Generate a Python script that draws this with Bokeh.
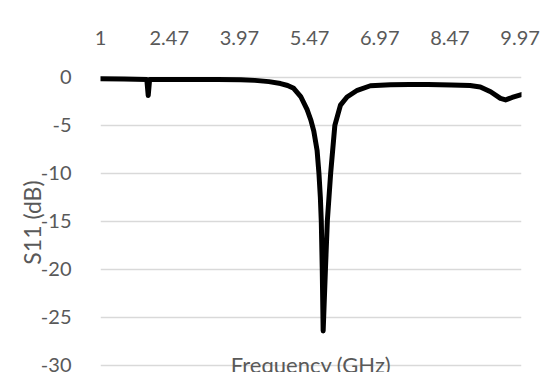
from bokeh.plotting import figure
from bokeh.models import Range1d, FixedTicker, Label, ColumnDataSource
from bokeh.embed import file_html
from bokeh.resources import INLINE

# ---- data ----
freq_ghz = [1.00, 1.50, 1.99, 2.02, 2.05, 2.50, 3.00, 3.50, 4.00, 4.30, 4.60,
            4.85, 5.00, 5.13, 5.28, 5.42, 5.50, 5.56, 5.63, 5.67, 5.70, 5.72,
            5.74, 5.76, 5.81, 5.85, 5.92, 6.01, 6.13, 6.27, 6.49, 6.77, 7.20,
            7.60, 8.00, 8.50, 8.90, 9.12, 9.34, 9.55, 9.66, 9.80, 10.00]
s11_db = [-0.15, -0.18, -0.22, -1.90, -0.22, -0.22, -0.22, -0.23, -0.26, -0.32, -0.45,
          -0.65, -0.85, -1.15, -2.00, -3.40, -4.50, -5.60, -7.60, -10.0, -12.5, -15.0,
          -19.8, -26.4, -19.8, -14.9, -10.0, -5.00, -2.90, -2.05, -1.35, -0.88, -0.78,
          -0.75, -0.76, -0.80, -0.86, -1.00, -1.50, -2.20, -2.35, -2.10, -1.80]

x_ticks = [1, 2.47, 3.97, 5.47, 6.97, 8.47, 9.97]
x_tick_labels = ["1", "2.47", "3.97", "5.47", "6.97", "8.47", "9.97"]
y_ticks = [0, -5, -10, -15, -20, -25, -30]
y_tick_labels = ["0", "-5", "-10", "-15", "-20", "-25", "-30"]

FONT = "Lato"
TXT = "#595959"
GRID = "#d9d9d9"

p = figure(width=553, height=372, output_backend="svg", toolbar_location=None,
           x_range=Range1d(1, 10), y_range=Range1d(-30.73, 0.5),
           x_axis_location="above",
           min_border_left=100, min_border_right=32,
           min_border_top=72, min_border_bottom=0)

p.outline_line_color = None
p.background_fill_color = "white"
p.border_fill_color = "white"

src = ColumnDataSource(dict(x=freq_ghz, y=s11_db))
p.line("x", "y", source=src, line_color="black", line_width=5,
       line_join="round", line_cap="round")

# x axis (top)
xa = p.xaxis[0]
xa.ticker = FixedTicker(ticks=x_ticks)
xa.major_label_overrides = {float(t): l for t, l in zip(x_ticks, x_tick_labels)}
xa.axis_line_color = None
xa.major_tick_line_color = None
xa.minor_tick_line_color = None
xa.major_label_text_font = FONT
xa.major_label_text_font_size = "20px"
xa.major_label_text_color = TXT
xa.major_label_standoff = 22

# y axis
ya = p.yaxis[0]
ya.ticker = FixedTicker(ticks=y_ticks)
ya.major_label_overrides = {float(t): l for t, l in zip(y_ticks, y_tick_labels)}
ya.axis_line_color = None
ya.major_tick_line_color = None
ya.minor_tick_line_color = None
ya.major_label_text_font = FONT
ya.major_label_text_font_size = "20px"
ya.major_label_text_color = TXT
ya.major_label_standoff = 23
ya.axis_label = "S11 (dB)"
ya.axis_label_text_font = FONT
ya.axis_label_text_font_size = "23px"
ya.axis_label_text_font_style = "normal"
ya.axis_label_text_color = TXT
ya.axis_label_standoff = -8

p.xgrid.grid_line_color = None
p.ygrid.grid_line_color = GRID
p.ygrid.grid_line_width = 1.3

title = Label(x=5.5, y=-30, y_offset=1, text="Frequency (GHz)",
              text_align="center", text_baseline="alphabetic",
              text_font=FONT, text_font_size="22px", text_color=TXT)
p.add_layout(title)

open("out.html", "w").write(file_html(p, INLINE))
